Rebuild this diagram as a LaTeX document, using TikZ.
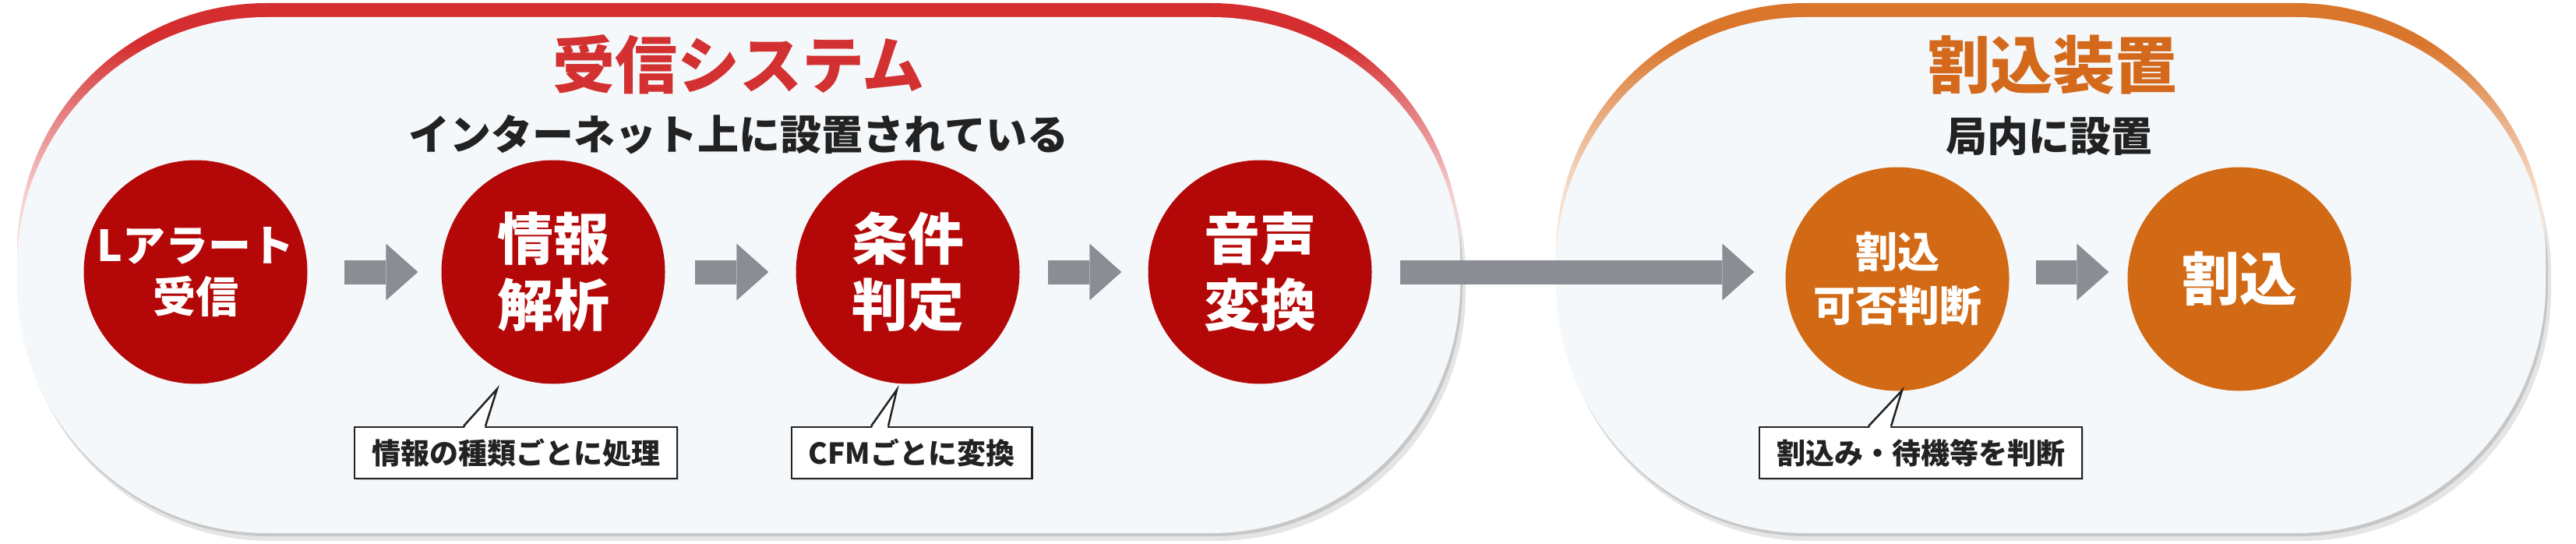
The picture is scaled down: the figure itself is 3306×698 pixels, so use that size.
\documentclass[tikz,border=0pt]{standalone}
\usepackage{fontspec}
\setmainfont{Noto Sans CJK JP}
\usetikzlibrary{arrows.meta,shadows}

\definecolor{alertred}{HTML}{B40808}
\definecolor{bandred}{HTML}{D52E30}
\definecolor{titlered}{HTML}{D33131}
\definecolor{devorange}{HTML}{D26914}
\definecolor{bandorange}{HTML}{DA762C}
\definecolor{titleorange}{HTML}{D4691C}
\definecolor{panelbg}{HTML}{F5F8FA}
\definecolor{arrowgray}{HTML}{8A8D94}
\definecolor{inkgray}{HTML}{222222}

% the path is mapped to 25bp--75bp of the shading
\pgfdeclareverticalshading{redband}{100bp}{color(0bp)=(white); color(25bp)=(white); color(47bp)=(bandred!6); color(57bp)=(bandred!25); color(65bp)=(bandred!65); color(71bp)=(bandred); color(100bp)=(bandred)}
\pgfdeclareverticalshading{orangeband}{100bp}{color(0bp)=(white); color(25bp)=(white); color(47bp)=(bandorange!6); color(57bp)=(bandorange!25); color(65bp)=(bandorange!65); color(71bp)=(bandorange); color(100bp)=(bandorange)}

\tikzset{
  panel/.style={rounded corners=320pt},
  redstep/.style={circle, fill=alertred, minimum size=287pt, inner sep=0pt, text=white, align=center, font=\fontsize{72}{85}\selectfont\bfseries},
  orangestep/.style={redstep, fill=devorange},
  flowarrow/.style={draw=arrowgray, line width=31pt, -{Triangle[length=41pt, width=73pt, line width=0pt]}},
  headline/.style={font=\fontsize{80}{80}\selectfont\bfseries},
  subline/.style={font=\fontsize{53}{53}\selectfont\bfseries, text=inkgray},
  notebox/.style={draw=inkgray, line width=2.5pt, fill=white, minimum height=66pt, inner xsep=22pt, text=inkgray, font=\fontsize{37}{40}\selectfont\bfseries, drop shadow={shadow xshift=2pt, shadow yshift=-2pt, fill=black!35}},
  noteline/.style={draw=inkgray, line width=2.5pt}
}

\begin{document}
\begin{tikzpicture}[x=1pt, y=-1pt]
  \useasboundingbox (0,0) rectangle (3306,698);

  % Receiving system panel
  \fill[black!10, panel] (27,32) rectangle (1881,694);
  \fill[black!22, panel] (24,27) rectangle (1877,688);
  \shade[panel, shading=redband] (22,4) rectangle (1874,666);
  \fill[panelbg, panel] (22,22) rectangle (1874,684);

  % Interrupt device panel
  \fill[black!10, panel] (2002,32) rectangle (3274,694);
  \fill[black!22, panel] (1999,27) rectangle (3270,688);
  \shade[panel, shading=orangeband] (1997,4) rectangle (3267,666);
  \fill[panelbg, panel] (1997,22) rectangle (3267,684);

  % Titles
  \node[headline, text=titlered] (sysTitle) at (948,83) {受信システム};
  \node[subline] (sysSub) at (948,173) {インターネット上に設置されている};
  \node[headline, text=titleorange] (devTitle) at (2634,83) {割込装置};
  \node[subline] (devSub) at (2630,174) {局内に設置};

  % Steps
  \node[redstep, font=\fontsize{55}{66}\selectfont\bfseries] (lalert) at (251,349) {Lアラート\\受信};
  \node[redstep] (joho) at (710,349) {情報\\解析};
  \node[redstep] (jouken) at (1165,349) {条件\\判定};
  \node[redstep] (onsei) at (1617,349) {音声\\変換};
  \node[orangestep, font=\fontsize{54}{69}\selectfont\bfseries] (kahi) at (2435,358) {割込\\可否判断};
  \node[orangestep, font=\fontsize{74}{80}\selectfont\bfseries] (wari) at (2874,358) {割込};

  % Arrows
  \draw[flowarrow, shorten <=47pt, shorten >=30pt] (lalert) -- (joho);
  \draw[flowarrow, shorten <=38pt, shorten >=35pt] (joho) -- (jouken);
  \draw[flowarrow, shorten <=36pt, shorten >=34pt] (jouken) -- (onsei);
  \draw[flowarrow, shorten <=36pt, shorten >=40pt] (onsei.east) -- (onsei.east -| kahi.west);
  \draw[flowarrow, shorten <=34pt, shorten >=24pt] (kahi.east |- onsei.east) -- (wari.west |- onsei.east);

  % Callouts
  \node[notebox] (note1) at (662,581) {情報の種類ごとに処理};
  \coordinate (tip1) at (638,499);
  \fill[white] ([xshift=-66pt, yshift=-2pt]note1.north) -- (tip1) -- ([xshift=-40pt, yshift=-2pt]note1.north) -- cycle;
  \draw[noteline] ([xshift=-67pt]note1.north) -- (tip1) -- ([xshift=-39pt]note1.north);

  \node[notebox] (note2) at (1170,581) {CFMごとに変換};
  \coordinate (tip2) at (1151,500);
  \fill[white] ([xshift=-51pt, yshift=-2pt]note2.north) -- (tip2) -- ([xshift=-31pt, yshift=-2pt]note2.north) -- cycle;
  \draw[noteline] ([xshift=-52pt]note2.north) -- (tip2) -- ([xshift=-30pt]note2.north);

  \node[notebox] (note3) at (2465,581) {割込み・待機等を判断};
  \coordinate (tip3) at (2441,501);
  \fill[white] ([xshift=-66pt, yshift=-2pt]note3.north) -- (tip3) -- ([xshift=-39pt, yshift=-2pt]note3.north) -- cycle;
  \draw[noteline] ([xshift=-67pt]note3.north) -- (tip3) -- ([xshift=-38pt]note3.north);
\end{tikzpicture}
\end{document}
